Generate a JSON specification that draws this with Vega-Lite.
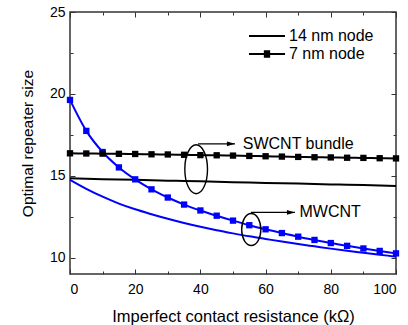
{
  "$schema": "https://vega.github.io/schema/vega-lite/v6.json",
  "width": 326,
  "height": 262,
  "autosize": {"type": "none"},
  "padding": {"left": 70, "top": 12, "right": 12, "bottom": 51},
  "background": "white",
  "config": {
    "font": "Liberation Sans",
    "view": {"stroke": "#333333", "strokeWidth": 1.5},
    "axis": {"grid": false, "domain": false, "tickColor": "#333333", "tickWidth": 1, "labelColor": "black", "titleColor": "black", "labelFont": "Liberation Sans", "titleFont": "Liberation Sans", "titleFontWeight": "normal"}
  },
  "datasets": {
    "curves": [
      {"cnt": "MWCNT", "node": "7 nm node", "r": 0, "s": 19.63},
      {"cnt": "MWCNT", "node": "7 nm node", "r": 5, "s": 17.74},
      {"cnt": "MWCNT", "node": "7 nm node", "r": 10, "s": 16.45},
      {"cnt": "MWCNT", "node": "7 nm node", "r": 15, "s": 15.51},
      {"cnt": "MWCNT", "node": "7 nm node", "r": 20, "s": 14.78},
      {"cnt": "MWCNT", "node": "7 nm node", "r": 25, "s": 14.17},
      {"cnt": "MWCNT", "node": "7 nm node", "r": 30, "s": 13.67},
      {"cnt": "MWCNT", "node": "7 nm node", "r": 35, "s": 13.24},
      {"cnt": "MWCNT", "node": "7 nm node", "r": 40, "s": 12.88},
      {"cnt": "MWCNT", "node": "7 nm node", "r": 45, "s": 12.56},
      {"cnt": "MWCNT", "node": "7 nm node", "r": 50, "s": 12.26},
      {"cnt": "MWCNT", "node": "7 nm node", "r": 55, "s": 11.98},
      {"cnt": "MWCNT", "node": "7 nm node", "r": 60, "s": 11.73},
      {"cnt": "MWCNT", "node": "7 nm node", "r": 65, "s": 11.50},
      {"cnt": "MWCNT", "node": "7 nm node", "r": 70, "s": 11.28},
      {"cnt": "MWCNT", "node": "7 nm node", "r": 75, "s": 11.08},
      {"cnt": "MWCNT", "node": "7 nm node", "r": 80, "s": 10.89},
      {"cnt": "MWCNT", "node": "7 nm node", "r": 85, "s": 10.72},
      {"cnt": "MWCNT", "node": "7 nm node", "r": 90, "s": 10.56},
      {"cnt": "MWCNT", "node": "7 nm node", "r": 95, "s": 10.41},
      {"cnt": "MWCNT", "node": "7 nm node", "r": 100, "s": 10.26},
      {"cnt": "MWCNT", "node": "14 nm node", "r": 0, "s": 14.75},
      {"cnt": "MWCNT", "node": "14 nm node", "r": 5, "s": 14.20},
      {"cnt": "MWCNT", "node": "14 nm node", "r": 10, "s": 13.72},
      {"cnt": "MWCNT", "node": "14 nm node", "r": 15, "s": 13.30},
      {"cnt": "MWCNT", "node": "14 nm node", "r": 20, "s": 12.95},
      {"cnt": "MWCNT", "node": "14 nm node", "r": 25, "s": 12.65},
      {"cnt": "MWCNT", "node": "14 nm node", "r": 30, "s": 12.37},
      {"cnt": "MWCNT", "node": "14 nm node", "r": 35, "s": 12.11},
      {"cnt": "MWCNT", "node": "14 nm node", "r": 40, "s": 11.88},
      {"cnt": "MWCNT", "node": "14 nm node", "r": 45, "s": 11.67},
      {"cnt": "MWCNT", "node": "14 nm node", "r": 50, "s": 11.48},
      {"cnt": "MWCNT", "node": "14 nm node", "r": 55, "s": 11.30},
      {"cnt": "MWCNT", "node": "14 nm node", "r": 60, "s": 11.14},
      {"cnt": "MWCNT", "node": "14 nm node", "r": 65, "s": 10.98},
      {"cnt": "MWCNT", "node": "14 nm node", "r": 70, "s": 10.83},
      {"cnt": "MWCNT", "node": "14 nm node", "r": 75, "s": 10.69},
      {"cnt": "MWCNT", "node": "14 nm node", "r": 80, "s": 10.55},
      {"cnt": "MWCNT", "node": "14 nm node", "r": 85, "s": 10.42},
      {"cnt": "MWCNT", "node": "14 nm node", "r": 90, "s": 10.30},
      {"cnt": "MWCNT", "node": "14 nm node", "r": 95, "s": 10.18},
      {"cnt": "MWCNT", "node": "14 nm node", "r": 100, "s": 10.06},
      {"cnt": "SWCNT bundle", "node": "7 nm node", "r": 0, "s": 16.37},
      {"cnt": "SWCNT bundle", "node": "7 nm node", "r": 5, "s": 16.36},
      {"cnt": "SWCNT bundle", "node": "7 nm node", "r": 10, "s": 16.35},
      {"cnt": "SWCNT bundle", "node": "7 nm node", "r": 15, "s": 16.34},
      {"cnt": "SWCNT bundle", "node": "7 nm node", "r": 20, "s": 16.33},
      {"cnt": "SWCNT bundle", "node": "7 nm node", "r": 25, "s": 16.31},
      {"cnt": "SWCNT bundle", "node": "7 nm node", "r": 30, "s": 16.30},
      {"cnt": "SWCNT bundle", "node": "7 nm node", "r": 35, "s": 16.28},
      {"cnt": "SWCNT bundle", "node": "7 nm node", "r": 40, "s": 16.26},
      {"cnt": "SWCNT bundle", "node": "7 nm node", "r": 45, "s": 16.25},
      {"cnt": "SWCNT bundle", "node": "7 nm node", "r": 50, "s": 16.23},
      {"cnt": "SWCNT bundle", "node": "7 nm node", "r": 55, "s": 16.21},
      {"cnt": "SWCNT bundle", "node": "7 nm node", "r": 60, "s": 16.19},
      {"cnt": "SWCNT bundle", "node": "7 nm node", "r": 65, "s": 16.17},
      {"cnt": "SWCNT bundle", "node": "7 nm node", "r": 70, "s": 16.15},
      {"cnt": "SWCNT bundle", "node": "7 nm node", "r": 75, "s": 16.13},
      {"cnt": "SWCNT bundle", "node": "7 nm node", "r": 80, "s": 16.12},
      {"cnt": "SWCNT bundle", "node": "7 nm node", "r": 85, "s": 16.10},
      {"cnt": "SWCNT bundle", "node": "7 nm node", "r": 90, "s": 16.09},
      {"cnt": "SWCNT bundle", "node": "7 nm node", "r": 95, "s": 16.07},
      {"cnt": "SWCNT bundle", "node": "7 nm node", "r": 100, "s": 16.06},
      {"cnt": "SWCNT bundle", "node": "14 nm node", "r": 0, "s": 14.84},
      {"cnt": "SWCNT bundle", "node": "14 nm node", "r": 5, "s": 14.82},
      {"cnt": "SWCNT bundle", "node": "14 nm node", "r": 10, "s": 14.79},
      {"cnt": "SWCNT bundle", "node": "14 nm node", "r": 15, "s": 14.77},
      {"cnt": "SWCNT bundle", "node": "14 nm node", "r": 20, "s": 14.75},
      {"cnt": "SWCNT bundle", "node": "14 nm node", "r": 25, "s": 14.72},
      {"cnt": "SWCNT bundle", "node": "14 nm node", "r": 30, "s": 14.70},
      {"cnt": "SWCNT bundle", "node": "14 nm node", "r": 35, "s": 14.68},
      {"cnt": "SWCNT bundle", "node": "14 nm node", "r": 40, "s": 14.66},
      {"cnt": "SWCNT bundle", "node": "14 nm node", "r": 45, "s": 14.63},
      {"cnt": "SWCNT bundle", "node": "14 nm node", "r": 50, "s": 14.61},
      {"cnt": "SWCNT bundle", "node": "14 nm node", "r": 55, "s": 14.59},
      {"cnt": "SWCNT bundle", "node": "14 nm node", "r": 60, "s": 14.56},
      {"cnt": "SWCNT bundle", "node": "14 nm node", "r": 65, "s": 14.54},
      {"cnt": "SWCNT bundle", "node": "14 nm node", "r": 70, "s": 14.52},
      {"cnt": "SWCNT bundle", "node": "14 nm node", "r": 75, "s": 14.49},
      {"cnt": "SWCNT bundle", "node": "14 nm node", "r": 80, "s": 14.47},
      {"cnt": "SWCNT bundle", "node": "14 nm node", "r": 85, "s": 14.45},
      {"cnt": "SWCNT bundle", "node": "14 nm node", "r": 90, "s": 14.43},
      {"cnt": "SWCNT bundle", "node": "14 nm node", "r": 95, "s": 14.40},
      {"cnt": "SWCNT bundle", "node": "14 nm node", "r": 100, "s": 14.38}
    ],
    "notes": [
      {"label": "SWCNT bundle", "ex": 38.7, "ey": 15.4, "ax1": 39.3, "tip": 50.6, "ay": 16.95, "tx": 53.0},
      {"label": "MWCNT", "ex": 55.6, "ey": 11.72, "ax1": 55.5, "tip": 69.0, "ay": 12.76, "tx": 70.4}
    ]
  },
  "resolve": {"axis": {"x": "independent", "y": "independent"}},
  "layer": [
    {
      "data": {"name": "curves"},
      "transform": [{"filter": "datum.node === '14 nm node'"}],
      "mark": {"type": "line", "strokeWidth": 2, "interpolate": "monotone"},
      "encoding": {
        "x": {"field": "r", "type": "quantitative", "scale": {"domain": [0, 100], "nice": false},
          "axis": {"orient": "bottom", "values": [0, 20, 40, 60, 80, 100], "tickSize": -5, "labelPadding": 13, "labelFontSize": 14, "title": "Imperfect contact resistance (kΩ)", "titleFontSize": 16.5, "titlePadding": 12}},
        "y": {"field": "s", "type": "quantitative", "scale": {"domain": [9, 25], "nice": false, "zero": false},
          "axis": {"orient": "left", "values": [10, 15, 20, 25], "tickSize": -5, "labelPadding": 10, "labelFontSize": 14, "title": "Optimal repeater size", "titleFontSize": 15.5, "titlePadding": 14}},
        "color": {"field": "cnt", "type": "nominal", "scale": {"domain": ["SWCNT bundle", "MWCNT"], "range": ["black", "#0000ff"]}, "legend": null},
        "detail": {"field": "cnt"}
      }
    },
    {
      "data": {"name": "curves"},
      "transform": [{"filter": "datum.node === '7 nm node'"}],
      "mark": {"type": "line", "strokeWidth": 2, "interpolate": "monotone", "point": {"shape": "square", "size": 40, "filled": true}},
      "encoding": {
        "x": {"field": "r", "type": "quantitative",
          "axis": {"orient": "bottom", "values": [10, 30, 50, 70, 90], "tickSize": -3, "labels": false, "title": null}},
        "y": {"field": "s", "type": "quantitative",
          "axis": {"orient": "left", "values": [12.5, 17.5, 22.5], "tickSize": -3, "labels": false, "title": null}},
        "color": {"field": "cnt", "type": "nominal", "legend": null},
        "detail": {"field": "cnt"}
      }
    },
    {
      "data": {"name": "curves"},
      "mark": {"type": "point", "opacity": 0, "filled": false, "color": "black", "strokeWidth": 2},
      "encoding": {
        "x": {"field": "r", "type": "quantitative",
          "axis": {"orient": "top", "values": [0, 20, 40, 60, 80, 100], "tickSize": -5, "labels": false, "title": null}},
        "y": {"field": "s", "type": "quantitative",
          "axis": {"orient": "right", "values": [10, 15, 20, 25], "tickSize": -5, "labels": false, "title": null}},
        "shape": {"field": "node", "type": "nominal",
          "scale": {"domain": ["14 nm node", "7 nm node"], "range": ["M-2,0H2", "M-2,0H2M-0.35,-0.3H0.35M-0.35,-0.1H0.35M-0.35,0.1H0.35M-0.35,0.3H0.35"]},
          "legend": {"orient": "none", "legendX": 187, "legendY": 14, "title": null, "labelFontSize": 16, "labelFont": "Liberation Sans", "labelColor": "black", "symbolSize": 324, "symbolStrokeColor": "black", "symbolStrokeWidth": 2, "symbolOpacity": 1, "labelOffset": 12, "rowPadding": 0, "padding": 0,
            "encode": {"symbols": {"update": {"stroke": {"value": "black"}, "strokeWidth": {"value": 2}, "opacity": {"value": 1}}}}}}
      }
    },
    {
      "data": {"name": "notes"},
      "transform": [{"filter": "datum.label === 'SWCNT bundle'"}],
      "mark": {"type": "point", "shape": "M0,-1A0.463,1 0 1 1 0,1A0.463,1 0 1 1 0,-1Z", "size": 2401, "filled": false, "stroke": "black", "strokeWidth": 1.4, "opacity": 1},
      "encoding": {
        "x": {"field": "ex", "type": "quantitative",
          "axis": {"orient": "top", "values": [10, 30, 50, 70, 90], "tickSize": -3, "labels": false, "title": null}},
        "y": {"field": "ey", "type": "quantitative",
          "axis": {"orient": "right", "values": [12.5, 17.5, 22.5], "tickSize": -3, "labels": false, "title": null}}
      }
    },
    {
      "data": {"name": "notes"},
      "transform": [{"filter": "datum.label === 'MWCNT'"}],
      "mark": {"type": "point", "shape": "M0,-1A0.6,1 0 1 1 0,1A0.6,1 0 1 1 0,-1Z", "size": 1024, "filled": false, "stroke": "black", "strokeWidth": 1.4, "opacity": 1},
      "encoding": {
        "x": {"field": "ex", "type": "quantitative", "axis": null},
        "y": {"field": "ey", "type": "quantitative", "axis": null}
      }
    },
    {
      "data": {"name": "notes"},
      "mark": {"type": "rule", "stroke": "black", "strokeWidth": 1.3},
      "encoding": {
        "x": {"field": "ax1", "type": "quantitative", "axis": null},
        "x2": {"field": "tip"},
        "y": {"field": "ay", "type": "quantitative", "axis": null}
      }
    },
    {
      "data": {"name": "notes"},
      "mark": {"type": "point", "shape": "M-1,-0.6L1,0L-1,0.6Z", "size": 64, "filled": true, "color": "black", "opacity": 1, "xOffset": -4},
      "encoding": {
        "x": {"field": "tip", "type": "quantitative", "axis": null},
        "y": {"field": "ay", "type": "quantitative", "axis": null}
      }
    },
    {
      "data": {"name": "notes"},
      "mark": {"type": "text", "align": "left", "baseline": "middle", "fontSize": 16, "font": "Liberation Sans", "color": "black"},
      "encoding": {
        "x": {"field": "tx", "type": "quantitative", "axis": null},
        "y": {"field": "ay", "type": "quantitative", "axis": null},
        "text": {"field": "label"}
      }
    }
  ]
}
